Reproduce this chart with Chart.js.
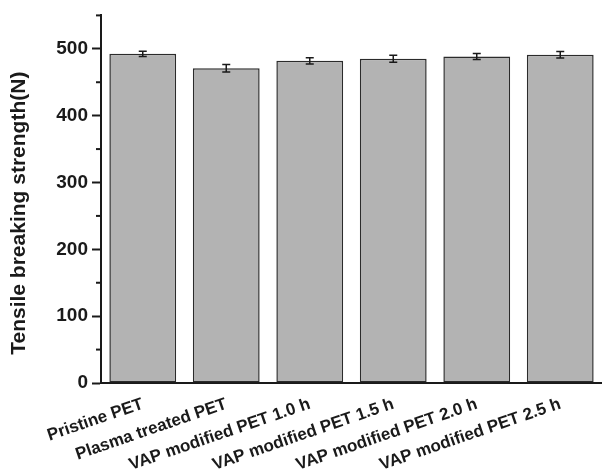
<!DOCTYPE html>
<html>
<head>
<meta charset="utf-8">
<script src="https://cdn.jsdelivr.net/npm/chart.js@4/dist/chart.umd.min.js"></script>
<style>
  html, body { margin: 0; padding: 0; background: #fff; }
  #wrap { width: 602px; height: 476px; }
</style>
</head>
<body>
<div id="wrap"><canvas id="strengthChart" width="602" height="476"></canvas></div>
<script>
// data
const samples = ['Pristine PET', 'Plasma treated PET', 'VAP modified PET 1.0 h',
    'VAP modified PET 1.5 h', 'VAP modified PET 2.0 h', 'VAP modified PET 2.5 h'];
const strength = [492.5, 471, 482, 485, 488.5, 491];
const strengthErr = [4, 5.5, 4.8, 5.2, 4.5, 4.9];
const minorTicks = [50, 150, 250, 350, 450, 550];
const yTitle = 'Tensile breaking strength(N)';

const ink = '#1a1a1a';
const font = 'Liberation Sans, Arial, sans-serif';

// error bars drawn through the scales
const errorBars = {
    id: 'errorBars',
    afterDatasetsDraw(chart) {
        const ctx = chart.ctx;
        const x = chart.scales.x, y = chart.scales.y;
        ctx.save();
        ctx.strokeStyle = ink;
        ctx.lineWidth = 1.5;
        strength.forEach((v, i) => {
            const px = x.getPixelForValue(i);
            const top = y.getPixelForValue(v + strengthErr[i]);
            const bot = y.getPixelForValue(v - strengthErr[i]);
            ctx.beginPath();
            ctx.moveTo(px, top); ctx.lineTo(px, bot);
            ctx.moveTo(px - 4, top); ctx.lineTo(px + 4, top);
            ctx.moveTo(px - 4, bot); ctx.lineTo(px + 4, bot);
            ctx.stroke();
        });
        ctx.restore();
    }
};

// short minor ticks on the y axis + the axis title (sits a bit below centre in the original)
const axisExtras = {
    id: 'axisExtras',
    afterDraw(chart) {
        const ctx = chart.ctx;
        const y = chart.scales.y;
        const area = chart.chartArea;
        ctx.save();
        ctx.strokeStyle = ink;
        ctx.lineWidth = 2;
        minorTicks.forEach(v => {
            const py = y.getPixelForValue(v);
            ctx.beginPath();
            ctx.moveTo(area.left - 5, py); ctx.lineTo(area.left, py);
            ctx.stroke();
        });
        ctx.translate(19, (area.top + area.bottom) / 2 + 14);
        ctx.rotate(-Math.PI / 2);
        ctx.fillStyle = ink;
        ctx.font = 'bold 21px ' + font;
        ctx.textAlign = 'center';
        ctx.textBaseline = 'middle';
        ctx.fillText(yTitle, 0, 0);
        ctx.restore();
    }
};

new Chart(document.getElementById('strengthChart'), {
    type: 'bar',
    data: {
        labels: samples,
        datasets: [{
            data: strength,
            backgroundColor: '#b3b3b3',
            borderColor: '#2b2b2b',
            borderWidth: 1.5,
            borderSkipped: false,
            barPercentage: 0.8,
            categoryPercentage: 1.0
        }]
    },
    options: {
        responsive: false,
        animation: false,
        layout: { padding: { top: 14, right: 0, left: 0, bottom: 0 } },
        plugins: { legend: { display: false }, tooltip: { enabled: false } },
        scales: {
            x: {
                grid: { display: false },
                border: { display: true, color: ink, width: 2 },
                ticks: {
                    color: ink,
                    font: { family: font, size: 17, weight: 'bold' },
                    minRotation: 19,
                    maxRotation: 19,
                    autoSkip: false,
                    padding: 3
                },
                afterFit(scale) { scale.height = 93; }
            },
            y: {
                min: 0,
                max: 550,
                grid: { drawOnChartArea: false, drawTicks: true, tickLength: 9, tickColor: ink, tickWidth: 2 },
                border: { display: true, color: ink, width: 2 },
                ticks: {
                    stepSize: 100,
                    includeBounds: false,
                    color: ink,
                    padding: 4,
                    font: { family: font, size: 19, weight: 'bold' }
                },
                afterFit(scale) { scale.width = 101; }
            }
        }
    },
    plugins: [errorBars, axisExtras]
});
</script>
</body>
</html>
